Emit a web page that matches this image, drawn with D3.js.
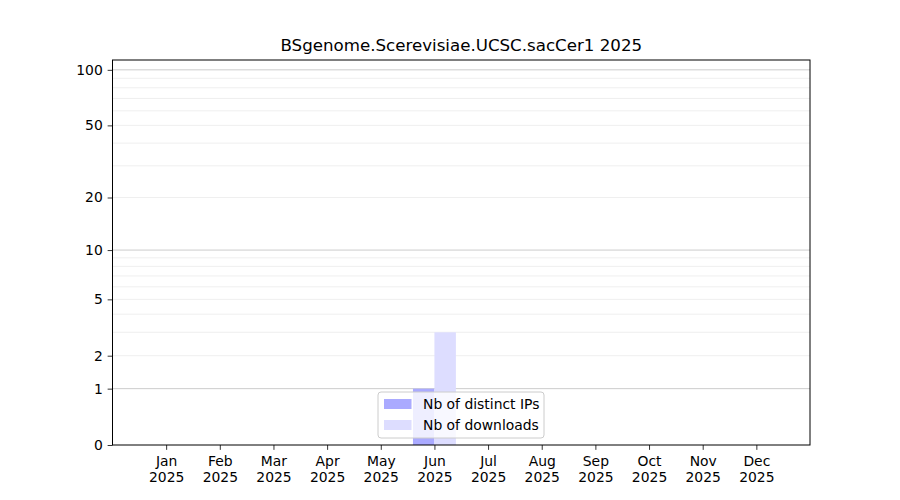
<!DOCTYPE html>
<html>
<head>
<meta charset="utf-8">
<script src="https://cdn.jsdelivr.net/npm/d3@7"></script>
<style>
  body { margin: 0; background: #fff; }
  svg { font-family: "DejaVu Sans", sans-serif; }
</style>
</head>
<body>
<svg id="chart" width="900" height="500"></svg>
<script>
// chart data
const chartTitle = "BSgenome.Scerevisiae.UCSC.sacCer1 2025";
const months = ["Jan", "Feb", "Mar", "Apr", "May", "Jun", "Jul", "Aug", "Sep", "Oct", "Nov", "Dec"];
const year = "2025";
const distinctIPs = [0, 0, 0, 0, 0, 1, 0, 0, 0, 0, 0, 0];
const downloads = [0, 0, 0, 0, 0, 3, 0, 0, 0, 0, 0, 0];
const yTicks = [0, 1, 2, 5, 10, 20, 50, 100];
const majorGrid = [1, 10, 100];
const minorGrid = [2, 3, 4, 5, 6, 7, 8, 9, 20, 30, 40, 50, 60, 70, 80, 90];
const yMax = 113;

// axes box (matplotlib default subplot params for a 900x500 figure)
const marginLeft = 112.5;
const marginRight = 90;
const marginTop = 60;
const marginBottom = 55;
const width = 900;
const height = 500;

const colIPs = "#aaaaff";
const colDownloads = "#ddddff";
const barW = 0.4;   // width of one bar, in month units

const svg = d3.select("#chart");

// scales
const x = d3.scaleLinear()
    .domain([0, months.length + 1])
    .range([marginLeft, width - marginRight]);

const y = d3.scaleSymlog()
    .constant(1)
    .domain([0, yMax])
    .range([height - marginBottom, marginTop]);

// grid lines (minor first, then major)
const gGrid = svg.append("g");
gGrid.selectAll("line.minor")
  .data(minorGrid)
  .join("line")
    .attr("class", "minor")
    .attr("x1", marginLeft).attr("x2", width - marginRight)
    .attr("y1", d => y(d)).attr("y2", d => y(d))
    .attr("stroke", "#ebebeb")
    .attr("stroke-width", 0.8);
gGrid.selectAll("line.major")
  .data(majorGrid)
  .join("line")
    .attr("class", "major")
    .attr("x1", marginLeft).attr("x2", width - marginRight)
    .attr("y1", d => y(d)).attr("y2", d => y(d))
    .attr("stroke", "#cccccc")
    .attr("stroke-width", 1);

// bars
const gBars = svg.append("g");
gBars.selectAll("rect.ips")
  .data(distinctIPs)
  .join("rect")
    .attr("class", "ips")
    .attr("x", (d, i) => x(i + 1 - barW))
    .attr("width", x(barW) - x(0))
    .attr("y", d => y(d))
    .attr("height", d => y(0) - y(d))
    .attr("fill", colIPs);
gBars.selectAll("rect.dl")
  .data(downloads)
  .join("rect")
    .attr("class", "dl")
    .attr("x", (d, i) => x(i + 1))
    .attr("width", x(barW) - x(0))
    .attr("y", d => y(d))
    .attr("height", d => y(0) - y(d))
    .attr("fill", colDownloads);

// axes
const xAxis = svg.append("g")
    .attr("transform", `translate(0,${height - marginBottom})`)
    .call(d3.axisBottom(x)
      .tickValues(d3.range(1, months.length + 1))
      .tickSize(4.86)
      .tickPadding(4.86)
      .tickFormat(""));
xAxis.select(".domain").remove();
xAxis.attr("font-family", "DejaVu Sans");
xAxis.selectAll(".tick line").attr("stroke", "#000").attr("stroke-width", 0.8);
xAxis.selectAll(".tick").each(function(d, i) {
  const t = d3.select(this).append("text")
      .attr("fill", "#000")
      .attr("font-size", 13.9)
      .attr("text-anchor", "middle");
  t.append("tspan").attr("x", 0).attr("y", 20.7).text(months[i]);
  t.append("tspan").attr("x", 0).attr("y", 37.2).text(year);
});

const yAxis = svg.append("g")
    .attr("transform", `translate(${marginLeft},0)`)
    .call(d3.axisLeft(y)
      .tickValues(yTicks)
      .tickSize(4.86)
      .tickPadding(4.86)
      .tickFormat(d3.format("d")));
yAxis.select(".domain").remove();
yAxis.attr("font-family", "DejaVu Sans");
yAxis.selectAll(".tick line").attr("stroke", "#000").attr("stroke-width", 0.8);
yAxis.selectAll(".tick text")
    .attr("fill", "#000")
    .attr("font-size", 13.9);

// axes frame
svg.append("rect")
    .attr("x", marginLeft).attr("y", marginTop)
    .attr("width", width - marginLeft - marginRight)
    .attr("height", height - marginTop - marginBottom)
    .attr("fill", "none")
    .attr("stroke", "#000")
    .attr("stroke-width", 1);

// title
svg.append("text")
    .attr("x", (marginLeft + width - marginRight) / 2)
    .attr("y", 51)
    .attr("text-anchor", "middle")
    .attr("font-size", 16.67)
    .attr("fill", "#000")
    .text(chartTitle);

// legend (bottom center)
const legend = svg.append("g").attr("transform", "translate(378,392)");
legend.append("rect")
    .attr("width", 166).attr("height", 46)
    .attr("rx", 3).attr("ry", 3)
    .attr("fill", "#fff").attr("fill-opacity", 0.8)
    .attr("stroke", "#cccccc").attr("stroke-width", 1);
const legendItems = [
  { label: "Nb of distinct IPs", color: colIPs },
  { label: "Nb of downloads", color: colDownloads }
];
legendItems.forEach((item, i) => {
  legend.append("rect")
      .attr("x", 6).attr("y", 7 + i * 21)
      .attr("width", 27.5).attr("height", 10)
      .attr("fill", item.color);
  legend.append("text")
      .attr("x", 45).attr("y", 17 + i * 21)
      .attr("font-size", 13.9)
      .attr("fill", "#000")
      .text(item.label);
});
</script>
</body>
</html>
